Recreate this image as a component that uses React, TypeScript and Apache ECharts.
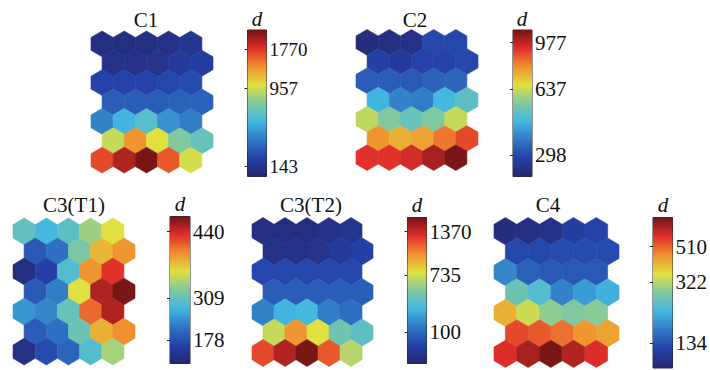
import React, { useEffect, useRef } from 'react';
import * as echarts from 'echarts';

// Titles of the five component planes
const panelTitles = ['C1', 'C2', 'C3(T1)', 'C3(T2)', 'C4'];

// Normalized colour level (0..1) of each hexagon, 7 rows x 5 columns
const c1Levels = [
  [0.04, 0.04, 0.04, 0.05, 0.07],
  [0.05, 0.05, 0.06, 0.09, 0.11],
  [0.13, 0.13, 0.13, 0.14, 0.15],
  [0.19, 0.19, 0.19, 0.2, 0.2],
  [0.27, 0.37, 0.42, 0.3, 0.26],
  [0.59, 0.74, 0.625, 0.5, 0.45],
  [0.84, 0.93, 0.99, 0.82, 0.61],
];
const c2Levels = [
  [0.03, 0.04, 0.05, 0.14, 0.14],
  [0.12, 0.09, 0.13, 0.13, 0.14],
  [0.19, 0.19, 0.18, 0.2, 0.21],
  [0.37, 0.27, 0.26, 0.38, 0.43],
  [0.58, 0.5, 0.45, 0.5, 0.59],
  [0.74, 0.7, 0.72, 0.78, 0.84],
  [0.87, 0.87, 0.89, 0.94, 0.99],
];
const c3t1Levels = [
  [0.44, 0.38, 0.43, 0.54, 0.625],
  [0.18, 0.23, 0.49, 0.69, 0.74],
  [0.04, 0.12, 0.41, 0.74, 0.87],
  [0.18, 0.26, 0.625, 0.93, 0.99],
  [0.31, 0.28, 0.45, 0.8, 0.93],
  [0.19, 0.23, 0.46, 0.7, 0.75],
  [0.05, 0.15, 0.21, 0.41, 0.55],
];
const c3t2Levels = [
  [0.04, 0.04, 0.04, 0.05, 0.07],
  [0.05, 0.05, 0.06, 0.09, 0.12],
  [0.14, 0.14, 0.14, 0.14, 0.14],
  [0.19, 0.19, 0.19, 0.19, 0.19],
  [0.27, 0.37, 0.38, 0.26, 0.23],
  [0.59, 0.74, 0.625, 0.47, 0.43],
  [0.84, 0.93, 0.99, 0.82, 0.57],
];
const c4Levels = [
  [0.03, 0.04, 0.05, 0.11, 0.13],
  [0.14, 0.14, 0.15, 0.15, 0.15],
  [0.28, 0.2, 0.18, 0.18, 0.18],
  [0.46, 0.41, 0.27, 0.32, 0.36],
  [0.7, 0.6, 0.52, 0.5, 0.51],
  [0.84, 0.82, 0.79, 0.74, 0.72],
  [0.88, 0.94, 0.99, 0.93, 0.88],
];

// Colour-bar tick labels (d) and their normalized position along each bar
const c1TickLabels = ['1770', '957', '143'];
const c1TickPos = [0.868, 0.603, 0.068];
const c2TickLabels = ['977', '637', '298'];
const c2TickPos = [0.913, 0.594, 0.148];
const c3t1TickLabels = ['440', '309', '178'];
const c3t1TickPos = [0.897, 0.447, 0.159];
const c3t2TickLabels = ['1370', '735', '100'];
const c3t2TickPos = [0.904, 0.606, 0.217];
const c4TickLabels = ['510', '322', '134'];
const c4TickPos = [0.807, 0.571, 0.166];

const colorbarName = 'd';

// Jet-like colour map (muted, as printed)
const jetColors = ['#25276f', '#2440a8', '#2f78c4', '#42b8e0', '#80c8a0', '#e0e040', '#f09030', '#e02e2a', '#701414'];

const panelLevels = [c1Levels, c2Levels, c3t1Levels, c3t2Levels, c4Levels];
const panelTickLabels = [c1TickLabels, c2TickLabels, c3t1TickLabels, c3t2TickLabels, c4TickLabels];
const panelTickPos = [c1TickPos, c2TickPos, c3t1TickPos, c3t2TickPos, c4TickPos];

// Layout (pixels)
const layouts = [
  { hex: { left: 91, top: 31, width: 122, height: 142 }, bar: { left: 247.5, top: 30, width: 19, height: 146.5 }, title: [146, 20], d: [257, 19], font: 19 },
  { hex: { left: 356, top: 29.5, width: 122, height: 141 }, bar: { left: 513, top: 30, width: 19, height: 146.5 }, title: [415, 20], d: [522, 19], font: 21 },
  { hex: { left: 13, top: 218, width: 122, height: 147 }, bar: { left: 170, top: 216.5, width: 20, height: 147 }, title: [74, 205], d: [180, 204], font: 21 },
  { hex: { left: 252, top: 217.5, width: 121, height: 149 }, bar: { left: 407.5, top: 217.5, width: 19, height: 146 }, title: [311, 205], d: [417, 205], font: 21 },
  { hex: { left: 494, top: 217.5, width: 125, height: 150 }, bar: { left: 653, top: 217.5, width: 21, height: 150.5 }, title: [548, 205], d: [663, 205], font: 21 },
];

const SERIF = '"Liberation Serif", "Times New Roman", serif';

export default function App() {
  const ref = useRef<HTMLDivElement>(null);
  useEffect(() => {
    document.body.style.margin = '0';
    if (!ref.current) return;
    const chart = echarts.init(ref.current, null, { renderer: 'svg' });

    const grids: any[] = [];
    const xAxes: any[] = [];
    const yAxes: any[] = [];
    const series: any[] = [];
    const visualMaps: any[] = [];
    const graphics: any[] = [];

    const gradientStops = jetColors.map((c, i) => ({ offset: i / (jetColors.length - 1), color: c }));

    layouts.forEach((L, p) => {
      // hex grid
      const gHex = grids.length;
      grids.push({ ...L.hex, containLabel: false });
      const xHex = xAxes.length;
      xAxes.push({ type: 'value', gridIndex: gHex, min: 0, max: 5.5, show: false });
      const yHex = yAxes.length;
      yAxes.push({ type: 'value', gridIndex: gHex, min: 0, max: 22 / 3, inverse: true, show: false });
      const data: number[][] = [];
      panelLevels[p].forEach((row, r) => row.forEach((v, c) => data.push([c, r, v])));
      const sIdx = series.length;
      series.push({
        type: 'custom',
        xAxisIndex: xHex,
        yAxisIndex: yHex,
        data,
        renderItem: (params: any, api: any) => {
          const c = api.value(0);
          const r = api.value(1);
          const cx = 0.5 + c + (r % 2 ? 0.5 : 0);
          const cy = 2 / 3 + r;
          const pts = [
            [cx, cy - 2 / 3],
            [cx + 0.5, cy - 1 / 3],
            [cx + 0.5, cy + 1 / 3],
            [cx, cy + 2 / 3],
            [cx - 0.5, cy + 1 / 3],
            [cx - 0.5, cy - 1 / 3],
          ].map((q) => api.coord(q));
          const color = api.visual('color');
          return { type: 'polygon', shape: { points: pts }, style: { fill: color, stroke: color, lineWidth: 0.6 } };
        },
      });
      visualMaps.push({
        type: 'continuous',
        show: false,
        seriesIndex: sIdx,
        dimension: 2,
        min: 0,
        max: 1,
        inRange: { color: jetColors },
      });

      // colour bar
      const gBar = grids.length;
      grids.push({ ...L.bar, show: true, borderColor: '#2a2a2a', borderWidth: 1, backgroundColor: 'transparent' });
      const labels = panelTickLabels[p];
      const pos = panelTickPos[p];
      const fmt = (v: number) => {
        let best = 0;
        pos.forEach((q, i) => {
          if (Math.abs(q - v) < Math.abs(pos[best] - v)) best = i;
        });
        return labels[best];
      };
      const xBar = xAxes.length;
      xAxes.push({ type: 'value', gridIndex: gBar, min: 0, max: 1, show: false });
      const yBar = yAxes.length;
      yAxes.push({
        type: 'value',
        gridIndex: gBar,
        min: 0,
        max: 1,
        position: 'right',
        axisLine: { show: false },
        splitLine: { show: false },
        axisTick: { show: true, inside: true, length: 3, customValues: pos, lineStyle: { color: '#222', width: 1 } },
        axisLabel: {
          show: true,
          customValues: pos,
          formatter: fmt,
          margin: 3,
          fontFamily: SERIF,
          fontSize: L.font,
          color: '#111',
        },
      });
      yAxes.push({
        type: 'value',
        gridIndex: gBar,
        min: 0,
        max: 1,
        position: 'left',
        axisLine: { show: false },
        splitLine: { show: false },
        axisLabel: { show: false },
        axisTick: { show: true, inside: true, length: 3, customValues: pos, lineStyle: { color: '#222', width: 1 } },
      });
      series.push({
        type: 'custom',
        xAxisIndex: xBar,
        yAxisIndex: yBar,
        data: [[0, 0]],
        z: 1,
        renderItem: (params: any, api: any) => {
          const a = api.coord([0, 1]);
          const b = api.coord([1, 0]);
          return {
            type: 'rect',
            shape: { x: a[0], y: a[1], width: b[0] - a[0], height: b[1] - a[1] },
            style: {
              fill: { type: 'linear', x: 0, y: 1, x2: 0, y2: 0, colorStops: gradientStops },
            },
          };
        },
      });

      graphics.push({
        type: 'text',
        x: L.title[0],
        y: L.title[1],
        style: { text: panelTitles[p], fontFamily: SERIF, fontSize: 21, fill: '#111', align: 'center', verticalAlign: 'middle' },
      });
      graphics.push({
        type: 'text',
        x: L.d[0],
        y: L.d[1],
        style: { text: colorbarName, fontFamily: SERIF, fontSize: 21, fontStyle: 'italic', fill: '#111', align: 'center', verticalAlign: 'middle' },
      });
    });

    chart.setOption({
      animation: false,
      backgroundColor: '#ffffff',
      grid: grids,
      xAxis: xAxes,
      yAxis: yAxes,
      visualMap: visualMaps,
      series,
      graphic: graphics,
    });
    return () => chart.dispose();
  }, []);
  return <div ref={ref} style={{ width: 710, height: 370 }} />;
}
